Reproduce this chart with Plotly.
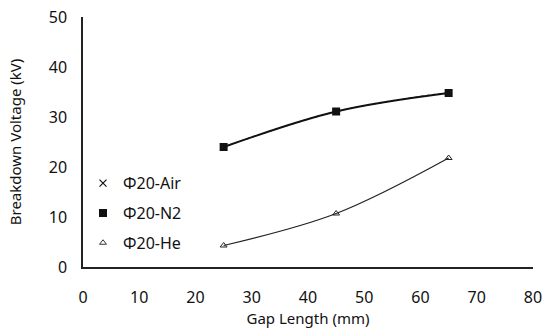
import plotly.graph_objects as go

gap_mm = [25, 45, 65]
air_kv = [24.0, 31.1, 34.9]
n2_kv = [24.0, 31.1, 34.8]
he_kv = [4.3, 10.7, 21.8]

series_names = ["Φ20-Air", "Φ20-N2", "Φ20-He"]
x_ticks = [0, 10, 20, 30, 40, 50, 60, 70, 80]
y_ticks = [0, 10, 20, 30, 40, 50]

FONT = "Noto Sans"
INK = "#111111"

fig = go.Figure()
# data traces (legend shown separately, marker only, as in the source)
fig.add_trace(go.Scatter(x=gap_mm, y=air_kv, mode="lines+markers", showlegend=False,
                         line=dict(color="#444444", width=1.2, shape="spline", dash="dot"),
                         marker=dict(symbol="x-thin", size=6, color=INK,
                                     line=dict(width=1.2, color=INK))))
fig.add_trace(go.Scatter(x=gap_mm, y=n2_kv, mode="lines+markers", showlegend=False,
                         line=dict(color=INK, width=2, shape="spline"),
                         marker=dict(symbol="square", size=8, color=INK)))
fig.add_trace(go.Scatter(x=gap_mm, y=he_kv, mode="lines+markers", showlegend=False,
                         line=dict(color="#222222", width=1.2, shape="spline"),
                         marker=dict(symbol="triangle-up-open", size=6, color="#222222",
                                     line=dict(width=1, color="#222222"))))

# legend entries
legend_markers = [
    dict(symbol="x-thin", size=7, color=INK, line=dict(width=1.2, color=INK)),
    dict(symbol="square", size=8, color=INK),
    dict(symbol="triangle-up-open", size=6, color="#333333", line=dict(width=1, color="#333333")),
]
for i, (nm, mk) in enumerate(zip(series_names, legend_markers)):
    fig.add_trace(go.Scatter(x=[None], y=[None], mode="markers", name=nm,
                             legendgroup=f"g{i}", marker=mk))

fig.update_layout(
    width=544, height=331,
    margin=dict(l=83, r=11, t=17, b=64),
    paper_bgcolor="white", plot_bgcolor="white",
    font=dict(family=FONT, size=16, color=INK),
    showlegend=True,
    legend=dict(x=0.0, y=0.215, xanchor="left", yanchor="middle",
                bgcolor="rgba(0,0,0,0)", font=dict(size=16, family=FONT, color=INK),
                itemwidth=30, tracegroupgap=6, traceorder="grouped"),
    xaxis=dict(range=[0, 80], tickvals=x_ticks, showgrid=False, zeroline=False,
               showline=True, linecolor="#222222", linewidth=1.5,
               ticks="outside", ticklen=15, tickcolor="rgba(0,0,0,0)", automargin=False,
               title=dict(text="Gap Length (mm)", font=dict(size=15, family=FONT), standoff=4),
               tickfont=dict(size=16, family=FONT)),
    yaxis=dict(range=[0, 50], tickvals=y_ticks, showgrid=False, zeroline=False,
               showline=True, linecolor="#222222", linewidth=1.5,
               ticks="outside", ticklen=11, tickcolor="rgba(0,0,0,0)", automargin=False,
               title=dict(text="Breakdown Voltage (kV)", font=dict(size=15, family=FONT), standoff=23),
               tickfont=dict(size=16, family=FONT)),
)

fig.write_html("out.html", config={"displayModeBar": False},
               post_script="document.body.style.margin='0';")
